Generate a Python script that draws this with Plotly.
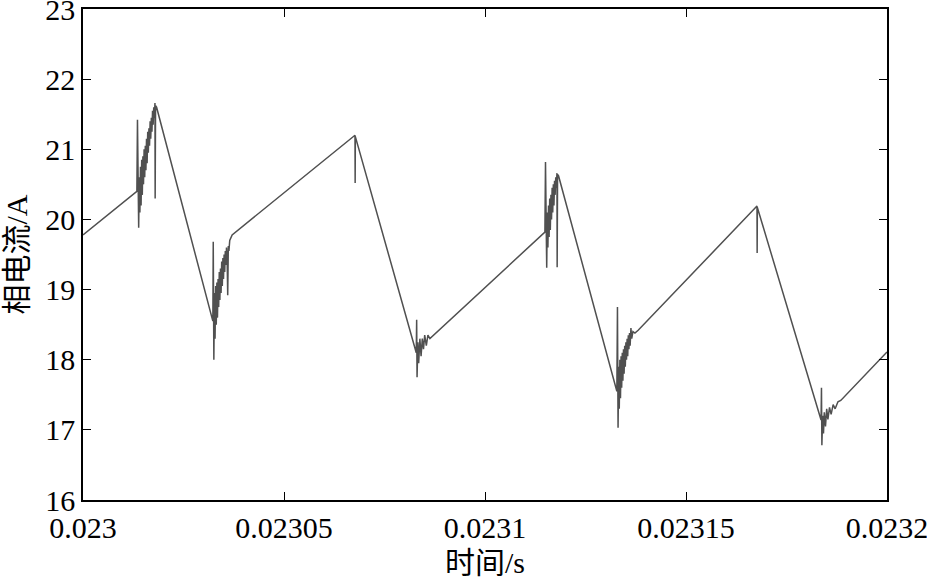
import plotly.graph_objects as go

# phase current waveform, vertices
# time in microseconds after 0.023 s, current in A
t_us = [
    0.0, 13.4,
    # switching noise near first peak
    13.55, 13.7, 13.85, 14.0, 14.15, 14.3, 14.45, 14.6, 14.75, 14.9, 15.05, 15.2,
    15.35, 15.5, 15.65, 15.8, 15.95, 16.1, 16.25, 16.4, 16.55, 16.7, 16.85, 17.0,
    17.15, 17.3, 17.45, 17.6, 17.75, 17.9, 17.95, 18.05, 18.3,
    # first trough
    32.3, 32.4, 32.55, 32.7, 32.85, 33.0, 33.15, 33.3, 33.45, 33.6, 33.75, 33.9,
    34.05, 34.2, 34.35, 34.5, 34.65, 34.8, 34.95, 35.1, 35.25, 35.4, 35.55, 35.7,
    35.85, 36.0, 36.15, 36.3, 36.5, 36.8, 37.1,
    # second peak
    67.66, 67.7, 67.75,
    # second trough
    82.9, 83.0, 83.1, 83.3, 83.5, 83.8, 84.1, 84.4, 84.7, 85.0, 85.4, 85.8, 86.3,
    # third peak
    114.9, 115.05, 115.2, 115.35, 115.5, 115.65, 115.8, 115.95, 116.1, 116.25,
    116.4, 116.55, 116.7, 116.85, 117.0, 117.15, 117.3, 117.45, 117.6, 117.75,
    117.9, 117.95, 118.05, 118.3,
    # third trough
    132.8, 132.95, 133.1, 133.25, 133.4, 133.55, 133.7, 133.85, 134.0, 134.15,
    134.3, 134.45, 134.6, 134.75, 134.9, 135.05, 135.2, 135.35, 135.5, 135.65,
    135.8, 135.95, 136.1, 136.3, 136.5, 136.8, 137.3, 138.1,
    # fourth peak
    167.66, 167.7, 167.75,
    # fourth trough
    183.6, 183.7, 183.8, 184.0, 184.2, 184.4, 184.7, 185.0, 185.3, 185.7,
    186.1, 186.6, 187.1, 187.8, 188.5,
    200.0,
]
current_a = [
    19.78, 20.40,
    21.42, 20.15, 19.88, 20.60, 20.10, 20.75, 20.20, 20.85, 20.35, 20.90, 20.50, 21.00,
    20.60, 21.05, 20.70, 21.15, 20.80, 21.25, 20.95, 21.30, 21.05, 21.40, 21.15, 21.45,
    21.25, 21.55, 21.35, 21.60, 21.45, 21.66, 20.30, 21.62, 21.60,
    18.55, 19.68, 18.00, 18.95, 18.30, 19.05, 18.50, 19.10, 18.60, 19.15, 18.75, 19.25,
    18.85, 19.30, 18.95, 19.40, 19.05, 19.45, 19.15, 19.50, 19.25, 19.55, 19.35, 19.60,
    19.45, 18.92, 19.62, 19.55, 19.70, 19.74, 19.78,
    21.20, 20.52, 21.18,
    18.10, 18.57, 17.75, 18.25, 17.95, 18.30, 18.05, 18.30, 18.15, 18.35, 18.20, 18.35, 18.30,
    19.82, 20.82, 19.60, 19.31, 20.10, 19.60, 20.20, 19.75, 20.30, 19.85,
    20.35, 20.00, 20.45, 20.10, 20.50, 20.20, 20.55, 20.35, 20.60, 20.45,
    20.66, 19.32, 20.64, 20.62,
    17.55, 18.75, 17.03, 17.90, 17.30, 18.00, 17.45, 18.05, 17.60, 18.10,
    17.70, 18.15, 17.80, 18.20, 17.90, 18.25, 18.00, 18.30, 18.05, 18.35,
    18.15, 18.38, 18.20, 18.45, 18.30, 18.40, 18.38, 18.42,
    20.19, 19.52, 20.17,
    17.14, 17.60, 16.78, 17.20, 16.95, 17.25, 17.05, 17.30, 17.15, 17.32,
    17.22, 17.36, 17.30, 17.40, 17.42,
    18.11,
]

x_ticks = [0.023, 0.02305, 0.0231, 0.02315, 0.0232]
x_tick_text = ["0.023", "0.02305", "0.0231", "0.02315", "0.0232"]
y_ticks = [16, 17, 18, 19, 20, 21, 22, 23]

t_s = [0.023 + v / 1e6 for v in t_us]

SERIF = "Times New Roman, Liberation Serif, serif"
CJK = "Times New Roman, Liberation Serif, Noto Sans CJK SC, serif"

fig = go.Figure()
fig.add_trace(
    go.Scatter(
        x=t_s, y=current_a, mode="lines",
        line={"color": "#505050", "width": 1.5},
        hoverinfo="skip", showlegend=False,
    )
)

axis_common = dict(
    showgrid=False, zeroline=False,
    showline=True, linecolor="black", linewidth=1.5, mirror="ticks",
    ticks="inside", ticklen=8, tickwidth=1.2, tickcolor="black",
    tickfont={"family": SERIF, "size": 30, "color": "black"},
    ticklabeloverflow="allow",
    automargin=False,
)

fig.update_layout(
    width=927, height=579,
    margin={"l": 83, "r": 40, "t": 9, "b": 79},
    paper_bgcolor="white", plot_bgcolor="white",
    xaxis=dict(
        axis_common, range=[0.023, 0.0232], tickvals=x_ticks, ticktext=x_tick_text,
        title={"text": "时间/s", "font": {"family": CJK, "size": 30, "color": "black"}, "standoff": 13},
    ),
    yaxis=dict(
        axis_common, range=[16, 23], tickvals=y_ticks,
        title={"text": "相电流/A", "font": {"family": CJK, "size": 30, "color": "black"}, "standoff": 17},
    ),
)

# drop the default 8px body margin so the figure fills the window
fig.write_html(
    "out.html",
    config={"displayModeBar": False},
    post_script="document.body.style.margin='0';",
)
